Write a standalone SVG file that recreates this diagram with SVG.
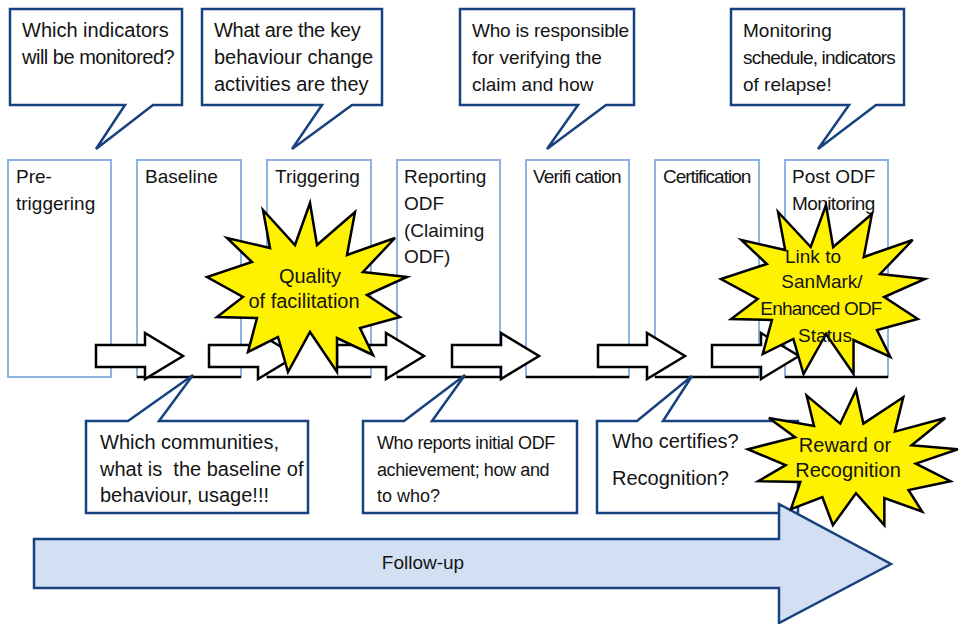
<svg xmlns="http://www.w3.org/2000/svg" xmlns:xlink="http://www.w3.org/1999/xlink" width="963" height="624" viewBox="0 0 963 624">
<style>
text{font-family:"Liberation Sans",Arial,sans-serif;fill:#141414}
.t20{font-size:20px}
.t19{font-size:19px}
.t18{font-size:18px}
.call{fill:#fff;stroke:#17427f;stroke-width:2.5;stroke-linejoin:miter}
.stage{fill:#fff;stroke:#8db3e2;stroke-width:2}
.base{stroke:#000;stroke-width:2.5}
.blk{fill:#fff;stroke:#000;stroke-width:2.5;stroke-linejoin:miter}
.star{fill:#fff200;stroke:#000;stroke-width:2.5;stroke-linejoin:miter}
.follow{fill:#d3e0f3;stroke:#17427f;stroke-width:2.5}
.mid{text-anchor:middle}
</style>
<defs>
<path id="starShape" class="star" vector-effect="non-scaling-stroke" d="M0,-85 L7,-43 L45,-76 L37,-33 L85,-50 L53,-16 L97,-11 L57,7 L90,29 L50,40 L63,67 L27,50 L27,84 L0,44 L-22,84 L-32,49 L-62,64 L-53,30 L-93,29 L-67,9 L-103,-11 L-58,-26 L-83,-50 L-40,-40 L-47,-78 L-15,-43 Z"/>
<path id="blockArrow" class="blk" d="M0,-11 H49 V-23 L87,0 L49,23 V11 H0 Z"/>
</defs>

<!-- stage boxes -->
<g id="stage-pretriggering">
<rect class="stage" x="8" y="160" width="103" height="217"/>
<text class="t19" x="16" y="183">Pre-</text>
<text class="t19" x="16" y="210">triggering</text>
</g>
<g id="stage-baseline">
<rect class="stage" x="137" y="160" width="104" height="217"/>
<line class="base" x1="137" y1="377" x2="241" y2="377"/>
<text class="t19" x="145" y="183">Baseline</text>
</g>
<g id="stage-triggering">
<rect class="stage" x="267" y="160" width="104" height="217"/>
<line class="base" x1="267" y1="377" x2="371" y2="377"/>
<text class="t19" x="275" y="183">Triggering</text>
</g>
<g id="stage-reporting">
<rect class="stage" x="397" y="160" width="103" height="217"/>
<line class="base" x1="397" y1="377" x2="500" y2="377"/>
<text class="t19" x="404" y="183">Reporting</text>
<text class="t19" x="404" y="210">ODF</text>
<text class="t19" x="404" y="237">(Claiming</text>
<text class="t19" x="404" y="263">ODF)</text>
</g>
<g id="stage-verification">
<rect class="stage" x="526" y="160" width="103" height="217"/>
<line class="base" x1="526" y1="377" x2="629" y2="377"/>
<text class="t19" x="533" y="183" letter-spacing="-0.8">Verifi cation</text>
</g>
<g id="stage-certification">
<rect class="stage" x="655" y="160" width="104" height="217"/>
<line class="base" x1="655" y1="377" x2="759" y2="377"/>
<text class="t19" x="663" y="183" letter-spacing="-1">Certification</text>
</g>
<g id="stage-postodf">
<rect class="stage" x="785" y="160" width="103" height="217"/>
<line class="base" x1="785" y1="377" x2="888" y2="377"/>
<text class="t19" x="792" y="183">Post ODF</text>
<text class="t19" x="792" y="210" letter-spacing="-0.6">Monitoring</text>
</g>

<!-- connectors: block arrows between stages -->
<g id="connectors">
<use xlink:href="#blockArrow" href="#blockArrow" transform="translate(96,356)"/>
<use xlink:href="#blockArrow" href="#blockArrow" transform="translate(209,356)"/>
<use xlink:href="#blockArrow" href="#blockArrow" transform="translate(337,356)"/>
<use xlink:href="#blockArrow" href="#blockArrow" transform="translate(452,356)"/>
<use xlink:href="#blockArrow" href="#blockArrow" transform="translate(598,356)"/>
<use xlink:href="#blockArrow" href="#blockArrow" transform="translate(712,356)"/>
</g>

<!-- top callouts -->
<g id="callout-indicators">
<path class="call" d="M10,9 H182 V105 H153 L96,149 L125,105 H10 Z"/>
<text class="t20" x="22" y="37">Which indicators</text>
<text class="t20" x="22" y="64" letter-spacing="-0.5">will be monitored?</text>
</g>
<g id="callout-behaviour">
<path class="call" d="M202,9 H382 V105 H352 L292,149 L322,105 H202 Z"/>
<text class="t20" x="214" y="37" letter-spacing="-0.3">What are the key</text>
<text class="t20" x="214" y="64">behaviour change</text>
<text class="t20" x="214" y="91">activities are they</text>
</g>
<g id="callout-verifying">
<path class="call" d="M460,9 H634 V105 H606 L547,149 L578,105 H460 Z"/>
<text class="t19" x="472" y="37" letter-spacing="-0.2">Who is responsible</text>
<text class="t19" x="472" y="64">for verifying the</text>
<text class="t19" x="472" y="91">claim and how</text>
</g>
<g id="callout-monitoring">
<path class="call" d="M731,9 H904 V105 H876 L818,149 L849,105 H731 Z"/>
<text class="t19" x="743" y="37">Monitoring</text>
<text class="t19" x="743" y="64" letter-spacing="-0.8">schedule, indicators</text>
<text class="t19" x="743" y="91">of relapse!</text>
</g>

<!-- bottom callouts -->
<g id="callout-communities">
<path class="call" d="M86,421 H128 L193,375 L159,421 H308 V513 H86 Z"/>
<text class="t20" x="100" y="449">Which communities,</text>
<text class="t20" x="100" y="476" xml:space="preserve">what is  the baseline of</text>
<text class="t20" x="100" y="502">behaviour, usage!!!</text>
</g>
<g id="callout-reports">
<path class="call" d="M363,421 H404 L465,375 L432,421 H577 V513 H363 Z"/>
<text class="t18" x="377" y="449" letter-spacing="-0.4">Who reports initial ODF</text>
<text class="t18" x="377" y="476" letter-spacing="-0.4">achievement; how and</text>
<text class="t18" x="377" y="502">to who?</text>
</g>
<g id="callout-certifies">
<path class="call" d="M597,421 H637 L692,376 L663,421 H798 V513 H597 Z"/>
<text class="t20" x="612" y="448">Who certifies?</text>
<text class="t20" x="612" y="485">Recognition?</text>
</g>

<!-- follow-up arrow -->
<g id="follow-up">
<path class="follow" d="M34,539 H779 V504 L891,564 L779,623 V588 H34 Z"/>
<text class="t19 mid" x="423" y="569">Follow-up</text>
</g>

<!-- stars -->
<g id="star-quality">
<use xlink:href="#starShape" href="#starShape" transform="translate(310,288)"/>
<text class="t20 mid" x="310" y="283">Quality</text>
<text class="t20 mid" x="304" y="308">of facilitation</text>
</g>
<g id="star-sanmark">
<use xlink:href="#starShape" href="#starShape" transform="translate(826,290) scale(1.02,1)"/>
<text class="t19 mid" x="813" y="263">Link to</text>
<text class="t19 mid" x="822" y="288">SanMark/</text>
<text class="t19 mid" x="821" y="315" letter-spacing="-0.8">Enhanced ODF</text>
<text class="t19 mid" x="825" y="342">Status</text>
</g>
<g id="star-reward">
<use xlink:href="#starShape" href="#starShape" transform="translate(856,458) scale(1.05,0.8)"/>
<text class="t20 mid" x="845" y="452">Reward or</text>
<text class="t20 mid" x="848" y="477">Recognition</text>
</g>
</svg>
